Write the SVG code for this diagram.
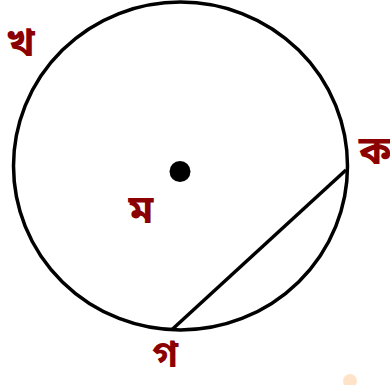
<svg xmlns="http://www.w3.org/2000/svg" width="390" height="385" viewBox="0 0 390 385">
<style>
.lbl{font-family:"Noto Sans Bengali","Noto Sans",sans-serif;font-size:40px;font-weight:bold;fill:#8b0000;text-anchor:middle}
.stk{fill:none;stroke:#000;stroke-width:3.5}
</style>
<rect width="390" height="385" fill="#fff"/>
<g id="circle"><ellipse class="stk" cx="180.5" cy="166" rx="167" ry="164"/></g>
<g id="center"><circle cx="180" cy="171.5" r="10.5" fill="#000"/></g>
<g id="connectors"><line class="stk" x1="346" y1="170" x2="171.5" y2="330"/></g>
<g id="label-kha"><text class="lbl" x="20.5" y="56">খ</text></g>
<g id="label-ka"><text class="lbl" x="375" y="164">ক</text></g>
<g id="label-ma"><text class="lbl" x="141" y="223">ম</text></g>
<g id="label-ga"><text class="lbl" x="165" y="367" style="font-size:38px">গ</text></g>
<g id="mark"><circle cx="350" cy="381" r="7" fill="#ffe3c8"/></g>
</svg>
